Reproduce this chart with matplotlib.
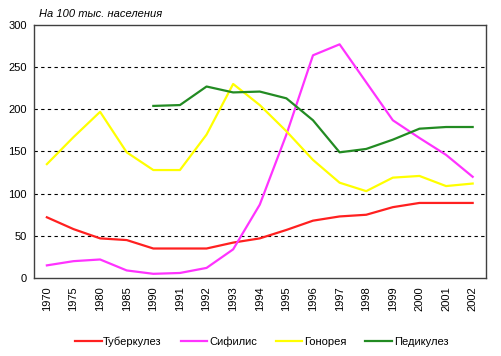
import numpy as np
import matplotlib
matplotlib.use("Agg")
import matplotlib.pyplot as plt

plt.rcParams['font.family'] = ['Liberation Sans', 'DejaVu Sans']

years = ['1970', '1975', '1980', '1985', '1990', '1991', '1992', '1993', '1994',
         '1995', '1996', '1997', '1998', '1999', '2000', '2001', '2002']

tuberkulez = [72, 58, 47, 45, 35, 35, 35, 42, 47, 57, 68, 73, 75, 84, 89, 89, 89]
sifilis = [15, 20, 22, 9, 5, 6, 12, 34, 87, 170, 264, 277, 232, 187, 166, 146, 120]
gonoreya = [135, 167, 197, 149, 128, 128, 170, 230, 205, 174, 140, 113, 103, 119, 121, 109, 112]
pedikulez = [None, None, None, None, 204, 205, 227, 220, 221, 213, 187, 149, 153, 164, 177, 179, 179]

series = [
    ('Туберкулез', tuberkulez, '#ff2020'),
    ('Сифилис', sifilis, '#ff33ff'),
    ('Гонорея', gonoreya, '#ffff00'),
    ('Педикулез', pedikulez, '#228b22'),
]

fig = plt.figure(figsize=(5.01, 3.56), dpi=100)
ax = fig.add_axes([0.067, 0.219, 0.903, 0.711])

x = np.arange(len(years))
for name, vals, col in series:
    y = np.array([np.nan if v is None else v for v in vals], dtype=float)
    ax.plot(x, y, color=col, lw=1.6, label=name)

ax.set_xlim(-0.5, len(years) - 0.5)
ax.set_ylim(0, 300)
ax.set_yticks(range(0, 301, 50))
ax.set_xticks(x)
ax.set_xticklabels(years, rotation=90)
ax.tick_params(axis='both', labelsize=8, length=0, colors='#000000')
ax.tick_params(axis='y', pad=5)
ax.tick_params(axis='x', pad=6)
for yv in range(50, 300, 50):
    ax.axhline(yv, color='black', lw=0.8, ls=(0, (3, 3)), zorder=0)
for sp in ax.spines.values():
    sp.set_color('#404040')
    sp.set_linewidth(1)

fig.text(0.078, 0.952, 'На 100 тыс. населения', fontsize=8, style='italic')

fig.legend(loc='center', bbox_to_anchor=(0.522, 0.04), ncol=4, frameon=False,
           fontsize=8, handlelength=2.4, columnspacing=1.7, handletextpad=0.15)

fig.savefig('out.png', dpi=100)
